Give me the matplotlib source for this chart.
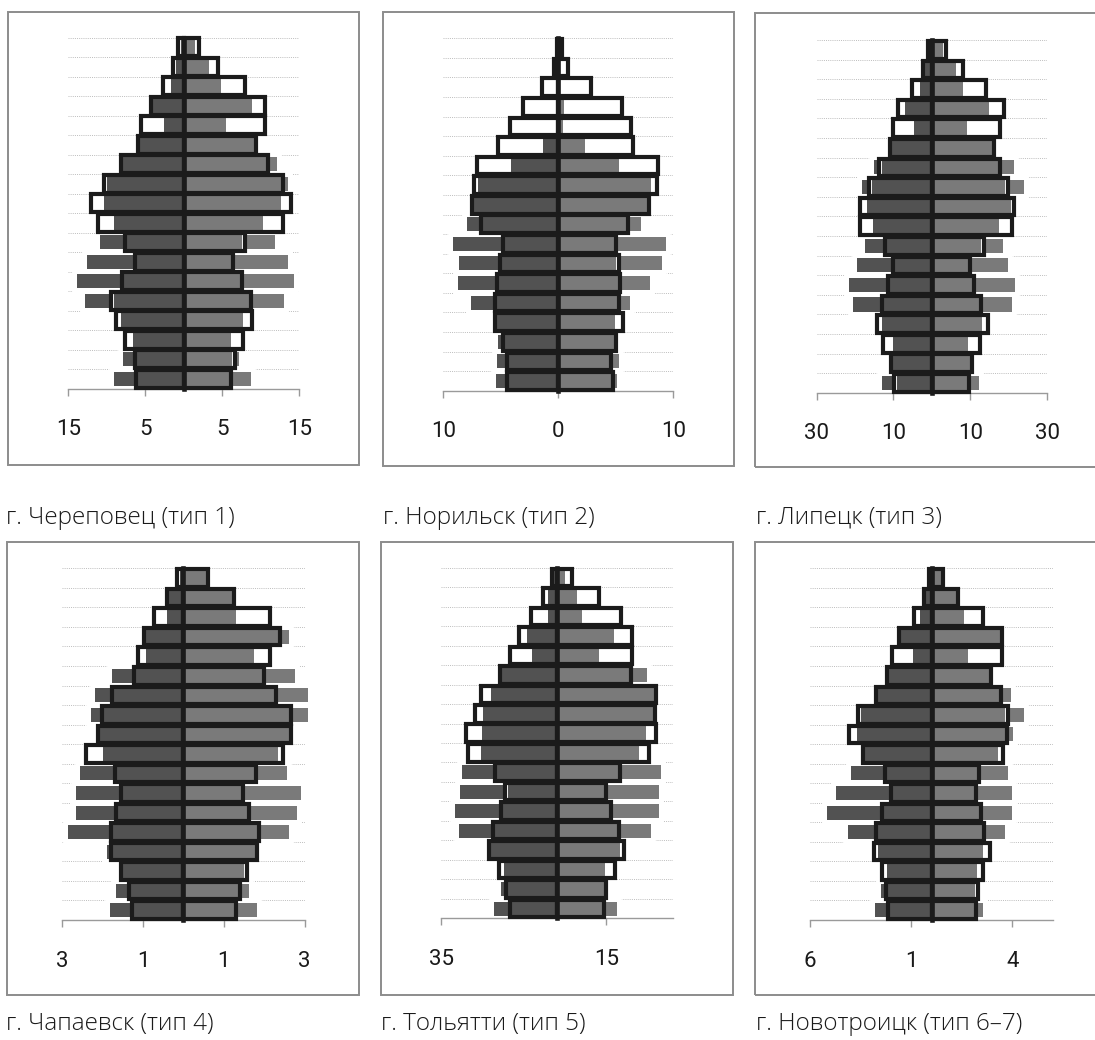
import numpy as np
import matplotlib
matplotlib.use("Agg")
import matplotlib.pyplot as plt
from matplotlib.patches import Rectangle

# ---------------- data (rows listed from the oldest group at the top to 0-4 at the bottom)
ages = ['85+', '80-84', '75-79', '70-74', '65-69', '60-64', '55-59', '50-54', '45-49',
        '40-44', '35-39', '30-34', '25-29', '20-24', '15-19', '10-14', '5-9', '0-4']

cities = ['г. Череповец (тип 1)', 'г. Норильск (тип 2)', 'г. Липецк (тип 3)',
          'г. Чапаевск (тип 4)', 'г. Тольятти (тип 5)', 'г. Новотроицк (тип 6–7)']

# Череповец
cher_bg_l = [0.2, 0.6, 1.2, 3.5, 2.0, 5.0, 7.0, 9.5, 10.0, 8.5, 10.9, 12.6, 13.9, 12.8, 8.0, 6.5, 7.9, 9.1]
cher_box_l = [0.8, 1.35, 2.65, 4.3, 5.5, 6.0, 8.1, 10.3, 12.0, 11.1, 7.7, 6.3, 8.0, 9.4, 8.8, 7.6, 6.4, 6.2]
cher_in_l = [0.3, 0.95, 1.6, 4.1, 2.55, 5.8, 7.9, 10.0, 10.3, 9.1, 7.6, 6.1, 7.8, 9.1, 8.2, 6.6, 6.2, 5.9]
cher_bg_r = [1.0, 3.0, 4.5, 8.5, 5.0, 8.8, 12.1, 13.5, 12.3, 10.0, 11.8, 13.5, 14.3, 13.0, 7.5, 6.0, 7.2, 8.7]
cher_box_r = [2.0, 4.4, 7.9, 10.5, 10.6, 9.4, 10.9, 12.9, 13.9, 12.9, 7.9, 6.4, 7.6, 8.7, 8.9, 7.7, 6.6, 6.1]
cher_in_r = [1.4, 3.3, 4.8, 8.8, 5.5, 9.1, 10.7, 12.7, 12.6, 10.3, 7.6, 6.1, 7.4, 8.5, 7.7, 6.1, 6.3, 6.0]

# Норильск
nor_bg_l = [0.0, 0.0, 0.0, 0.0, 0.0, 1.0, 3.5, 6.5, 6.8, 7.9, 9.2, 8.6, 8.75, 7.6, 5.0, 5.2, 5.3, 5.45]
nor_box_l = [0.1, 0.35, 1.45, 3.1, 4.2, 5.2, 7.1, 7.3, 7.5, 6.7, 4.85, 5.1, 5.3, 5.5, 5.5, 4.85, 4.5, 4.5]
nor_in_l = [0.05, 0.05, 0.05, 0.05, 0.05, 1.3, 4.1, 7.0, 7.3, 6.6, 4.7, 5.0, 5.15, 5.35, 5.35, 4.7, 4.4, 4.4]
nor_bg_r = [0.0, 0.0, 0.0, 0.3, 0.3, 2.0, 5.0, 7.5, 7.3, 7.2, 9.4, 9.0, 8.0, 6.2, 4.8, 4.6, 5.3, 5.1]
nor_box_r = [0.3, 0.8, 2.8, 5.5, 6.3, 6.5, 8.7, 8.6, 7.9, 6.1, 5.0, 5.25, 5.4, 5.3, 5.6, 5.0, 4.6, 4.75]
nor_in_r = [0.05, 0.05, 0.1, 0.5, 0.4, 2.3, 5.3, 8.1, 7.7, 6.0, 4.8, 5.0, 5.2, 5.1, 4.9, 4.85, 4.55, 4.55]

# Липецк
lip_bg_l = [0.3, 1.2, 2.5, 6.0, 4.0, 9.5, 15.1, 18.2, 16.5, 15.0, 17.3, 19.5, 21.7, 20.5, 12.5, 10.0, 9.5, 12.9]
lip_box_l = [0.9, 2.35, 5.2, 8.7, 10.0, 10.9, 13.7, 16.3, 18.7, 18.7, 12.2, 10.0, 11.5, 13.0, 14.3, 12.8, 10.7, 9.8]
lip_in_l = [0.5, 1.8, 3.1, 6.9, 4.7, 10.3, 13.1, 15.7, 17.0, 15.3, 11.8, 9.6, 11.1, 12.7, 12.9, 10.1, 10.1, 9.2]
lip_bg_r = [2.5, 5.5, 7.5, 14.0, 8.5, 15.0, 21.4, 24.1, 20.0, 17.0, 18.6, 19.9, 21.7, 20.8, 13.0, 9.0, 9.8, 12.3]
lip_box_r = [3.6, 8.1, 14.2, 18.7, 17.8, 16.2, 17.8, 19.8, 21.4, 20.9, 13.5, 10.0, 11.1, 12.9, 14.6, 12.6, 10.5, 9.65]
lip_in_r = [2.9, 6.3, 8.0, 15.0, 9.2, 15.7, 17.5, 19.0, 20.5, 17.5, 12.8, 9.3, 10.5, 12.3, 13.1, 9.5, 10.2, 9.3]

# Чапаевск
chap_bg_l = [0.05, 0.3, 0.35, 0.85, 0.85, 1.78, 2.2, 2.28, 2.0, 1.9, 2.55, 2.67, 2.67, 2.86, 1.9, 1.45, 1.68, 1.83]
chap_box_l = [0.15, 0.41, 0.73, 0.98, 1.12, 1.22, 1.78, 2.02, 2.12, 2.41, 1.69, 1.55, 1.67, 1.8, 1.8, 1.55, 1.36, 1.28]
chap_in_l = [0.09, 0.36, 0.42, 0.94, 0.92, 1.18, 1.73, 1.97, 2.09, 2.0, 1.66, 1.51, 1.62, 1.77, 1.74, 1.52, 1.33, 1.25]
chap_bg_r = [0.5, 1.1, 1.2, 2.6, 1.6, 2.76, 3.07, 3.07, 2.5, 2.2, 2.55, 2.9, 2.82, 2.62, 1.7, 1.4, 1.63, 1.83]
chap_box_r = [0.6, 1.24, 2.15, 2.38, 2.15, 2.0, 2.3, 2.67, 2.65, 2.46, 1.79, 1.47, 1.61, 1.87, 1.82, 1.58, 1.39, 1.31]
chap_in_r = [0.57, 1.2, 1.3, 2.33, 1.74, 1.97, 2.25, 2.62, 2.6, 2.33, 1.75, 1.44, 1.59, 1.83, 1.78, 1.5, 1.34, 1.26]

# Тольятти
tol_bg_l = [0.5, 2.0, 2.0, 8.0, 6.5, 15.5, 19.0, 21.0, 21.5, 22.0, 28.5, 29.2, 30.9, 29.5, 18.5, 15.0, 16.9, 18.9]
tol_box_l = [1.4, 4.1, 7.8, 11.5, 14.2, 17.1, 22.9, 24.6, 27.4, 26.8, 18.6, 15.5, 16.9, 19.4, 20.4, 17.4, 15.2, 14.0]
tol_in_l = [0.8, 2.7, 2.5, 8.9, 7.6, 16.5, 20.0, 22.2, 22.5, 22.9, 18.0, 14.8, 16.3, 18.7, 19.9, 15.8, 14.6, 13.4]
tol_bg_r = [2.0, 5.5, 7.0, 16.0, 12.0, 27.2, 28.0, 28.0, 26.0, 24.0, 31.5, 30.9, 30.9, 28.4, 18.5, 14.0, 14.0, 18.1]
tol_box_r = [4.7, 12.7, 19.5, 22.9, 22.9, 22.6, 29.9, 29.8, 29.9, 27.8, 19.0, 15.0, 16.3, 18.8, 20.3, 17.7, 15.0, 14.2]
tol_in_r = [2.5, 6.0, 7.6, 17.4, 12.9, 22.3, 29.5, 29.2, 27.0, 24.9, 18.6, 14.4, 15.9, 18.1, 19.1, 14.6, 14.6, 13.8]

# Новотроицк
nov_bg_l = [0.05, 0.2, 0.5, 1.4, 0.8, 1.95, 2.5, 3.3, 3.5, 3.1, 4.0, 4.74, 5.16, 4.12, 2.5, 2.1, 2.49, 2.8]
nov_box_l = [0.12, 0.36, 0.86, 1.6, 1.98, 2.2, 2.75, 3.62, 4.1, 3.41, 2.29, 2.0, 2.47, 2.75, 2.83, 2.47, 2.26, 2.13]
nov_in_l = [0.1, 0.26, 0.58, 1.53, 0.91, 2.08, 2.69, 3.51, 3.71, 3.31, 2.22, 1.94, 2.4, 2.69, 2.64, 2.19, 2.14, 2.08]
nov_bg_r = [0.45, 1.1, 1.5, 3.2, 1.7, 2.7, 3.94, 4.56, 4.04, 3.2, 3.77, 3.99, 3.99, 3.66, 2.5, 2.2, 2.1, 2.55]
nov_box_r = [0.56, 1.33, 2.54, 3.48, 3.48, 2.93, 3.43, 3.77, 3.72, 3.56, 2.36, 2.21, 2.44, 2.6, 2.9, 2.57, 2.29, 2.19]
nov_in_r = [0.5, 1.24, 1.63, 3.38, 1.81, 2.83, 3.36, 3.66, 3.69, 3.3, 2.37, 2.17, 2.34, 2.54, 2.55, 2.26, 2.17, 2.13]

# axis ticks (negative = left side) and limits
cher_ticks = [-15, -5, 5, 15]
nor_ticks = [-10, 0, 10]
lip_ticks = [-30, -10, 10, 30]
chap_ticks = [-3, -1, 1, 3]
tol_ticks = [-35, 15]
nov_ticks = [-6, -1, 4]

panels = [
    dict(series=(cher_bg_l, cher_box_l, cher_in_l, cher_bg_r, cher_box_r, cher_in_r),
         ticks=cher_ticks, xlim=(-15, 15)),
    dict(series=(nor_bg_l, nor_box_l, nor_in_l, nor_bg_r, nor_box_r, nor_in_r),
         ticks=nor_ticks, xlim=(-10, 10)),
    dict(series=(lip_bg_l, lip_box_l, lip_in_l, lip_bg_r, lip_box_r, lip_in_r),
         ticks=lip_ticks, xlim=(-30, 30)),
    dict(series=(chap_bg_l, chap_box_l, chap_in_l, chap_bg_r, chap_box_r, chap_in_r),
         ticks=chap_ticks, xlim=(-3, 3)),
    dict(series=(tol_bg_l, tol_box_l, tol_in_l, tol_bg_r, tol_box_r, tol_in_r),
         ticks=tol_ticks, xlim=(-35, 35)),
    dict(series=(nov_bg_l, nov_box_l, nov_in_l, nov_bg_r, nov_box_r, nov_in_r),
         ticks=nov_ticks, xlim=(-6, 6)),
]

# ---------------- layout (pixels, origin top-left)
W, H = 1095, 1040
axes_px = [(68.3, 37.5, 299.3, 388.5), (443.3, 38.3, 673.3, 390.7), (816.7, 40.0, 1047.0, 392.7),
           (62.3, 568.3, 304.7, 920.0), (441.0, 567.7, 672.5, 918.3), (810.3, 568.3, 1052.7, 920.0)]
frames_px = [(8, 12, 359, 465), (383, 12, 734, 466), (755, 13, 1110, 467),
             (7, 542, 359, 995), (381, 542, 733, 995), (755, 542, 1110, 995)]
captions_px = [(6, 524), (383, 524), (756, 524), (6, 1030), (381, 1030), (756, 1030)]

DARK = '#525252'
LIGHT = '#7a7a7a'
EDGE = '#1b1b1b'

fig = plt.figure(figsize=(W / 100, H / 100), dpi=100)
fig.patch.set_facecolor('white')

for i, p in enumerate(panels):
    x0, y0, x1, y1 = axes_px[i]
    ax = fig.add_axes([x0 / W, 1 - y1 / H, (x1 - x0) / W, (y1 - y0) / H])
    bg_l, box_l, in_l, bg_r, box_r, in_r = [np.asarray(s, float) for s in p['series']]
    n = len(ages)
    y = (n - 1 - np.arange(n)) + 0.5

    # white halo behind background bars (interrupts gridlines like the original)
    for vals in (-bg_l, bg_r):
        ax.barh(y, vals, height=0.72, color='white', edgecolor='white', lw=7, zorder=1)
    # background (wide) bars
    ax.barh(y, -bg_l, height=0.72, color=DARK, lw=0, zorder=2, clip_on=False)
    ax.barh(y, bg_r, height=0.72, color=LIGHT, lw=0, zorder=2, clip_on=False)
    # outlined boxes: white fill
    ax.barh(y, -box_l, height=0.9, color='white', lw=0, zorder=3, clip_on=False)
    ax.barh(y, box_r, height=0.9, color='white', lw=0, zorder=3, clip_on=False)
    # inner bars
    ax.barh(y, -in_l, height=0.74, color=DARK, lw=0, zorder=4, clip_on=False)
    ax.barh(y, in_r, height=0.74, color=LIGHT, lw=0, zorder=4, clip_on=False)
    # box outlines
    ax.barh(y, -box_l, height=0.9, fill=False, edgecolor=EDGE, lw=3.0, zorder=5, clip_on=False)
    ax.barh(y, box_r, height=0.9, fill=False, edgecolor=EDGE, lw=3.0, zorder=5, clip_on=False)
    # central axis
    ax.axvline(0, color=EDGE, lw=3.3, zorder=6, clip_on=False)

    ax.set_xlim(*p['xlim'])
    ax.set_ylim(0, n)
    ax.set_yticks(np.arange(1, n + 1))
    ax.tick_params(axis='y', length=0, labelleft=False)
    ax.grid(axis='y', color='#bdbdbd', linestyle=(0, (1, 1.2)), lw=0.7)
    ax.set_axisbelow(True)

    ax.set_xticks(p['ticks'])
    ax.set_xticklabels([str(abs(t)) for t in p['ticks']], fontsize=16, family='Roboto', color='#1a1a1a')
    ax.tick_params(axis='x', direction='out', length=5, width=1, color='#9a9a9a', pad=17)
    for s in ('top', 'left', 'right'):
        ax.spines[s].set_visible(False)
    ax.spines['bottom'].set_color('#9a9a9a')
    ax.spines['bottom'].set_linewidth(1)
    ax.spines['bottom'].set_zorder(1.5)
    ax.set_facecolor('none')

    fx0, fy0, fx1, fy1 = frames_px[i]
    fig.add_artist(Rectangle((fx0 / W, 1 - fy1 / H), (fx1 - fx0) / W, (fy1 - fy0) / H,
                             transform=fig.transFigure, fill=False, edgecolor='#8c8c8c', lw=1.4))
    cx, cy = captions_px[i]
    fig.text(cx / W, 1 - cy / H, cities[i], ha='left', va='baseline', fontsize=17.5,
             family='Open Sans', fontweight='light', color='#1a1a1a')

fig.savefig('out.png', dpi=100, facecolor='white')
